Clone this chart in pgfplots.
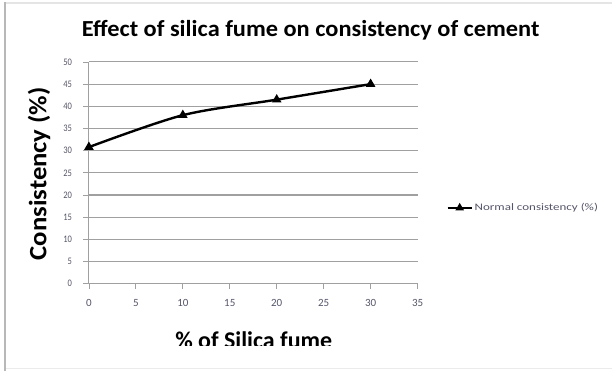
\documentclass[border=0pt]{standalone}
\usepackage{fontspec}
\setmainfont{Carlito}
\newfontfamily\titlefont[FakeStretch=1.06]{Carlito}
\newfontfamily\ylabfont[FakeStretch=1.07]{Carlito}
\newfontfamily\legfont[FakeStretch=1.3]{Carlito}
\newfontfamily\ytickfont[FakeStretch=0.85]{Carlito}
\usepackage{pgfplots}
\pgfplotsset{compat=1.18}
\definecolor{ticktxt}{RGB}{85,85,105}
\definecolor{gridc}{RGB}{160,160,160}
\begin{document}
\begin{tikzpicture}[x=1pt,y=1pt]
\path (0,0) rectangle (613,371);
\draw[black!10, line width=1.2pt] (5,368) -- (613,368);
\draw[black!8, line width=1pt] (5,2) -- (613,2);
\draw[black!28, line width=2pt] (5,0) -- (5,369);
\begin{axis}[
  at={(89pt,87pt)}, anchor=south west,
  scale only axis, width=329pt, height=222pt,
  xmin=0, xmax=35, ymin=0, ymax=50,
  xtick={0,5,...,35}, ytick={0,5,...,50},
  axis lines=left, axis line style={-, gridc, line width=1.1pt},
  ymajorgrids, grid style={gridc, line width=1.1pt},
  tick align=outside, major tick length=5.5pt,
  tick style={gridc, line width=0.8pt},
  /pgf/number format/assume math mode=true,
  xticklabel style={font=\fontsize{11}{12}\selectfont, text=ticktxt, yshift=-7pt},
  yticklabel style={font=\ytickfont\fontsize{10}{11}\selectfont, text=ticktxt, xshift=-8pt},
  clip=false,
  legend style={at={(1.088,0.342)}, anchor=west, draw=none, fill=none,
    font=\legfont\fontsize{10}{11}\selectfont\color{ticktxt}, inner sep=0pt},
  legend image code/.code={\draw[black, line width=2pt, mark=triangle*, mark size=3pt, mark repeat=2, mark phase=2, mark options={solid}] plot coordinates {(0pt,0pt) (12pt,0pt) (24pt,0pt)};},
]
\addplot[black, line width=2.4pt, smooth, mark=triangle*, mark size=3.2pt] coordinates {
  (0,30.8) (10,38) (20,41.5) (30,45)
};
\addlegendentry{Normal consistency (\%)}
\end{axis}
\node[font=\titlefont\bfseries\fontsize{23}{26}\selectfont] at (311,341) {Effect of silica fume on consistency of cement};
\node[font=\ylabfont\bfseries\fontsize{25}{27}\selectfont, rotate=90] at (39,197) {Consistency (\%)};
\begin{scope}
\clip (0,25) rectangle (613,60);
\node[font=\bfseries\fontsize{24}{26}\selectfont, anchor=base] at (254,22) {\% of Silica fume};
\end{scope}
\end{tikzpicture}
\end{document}
